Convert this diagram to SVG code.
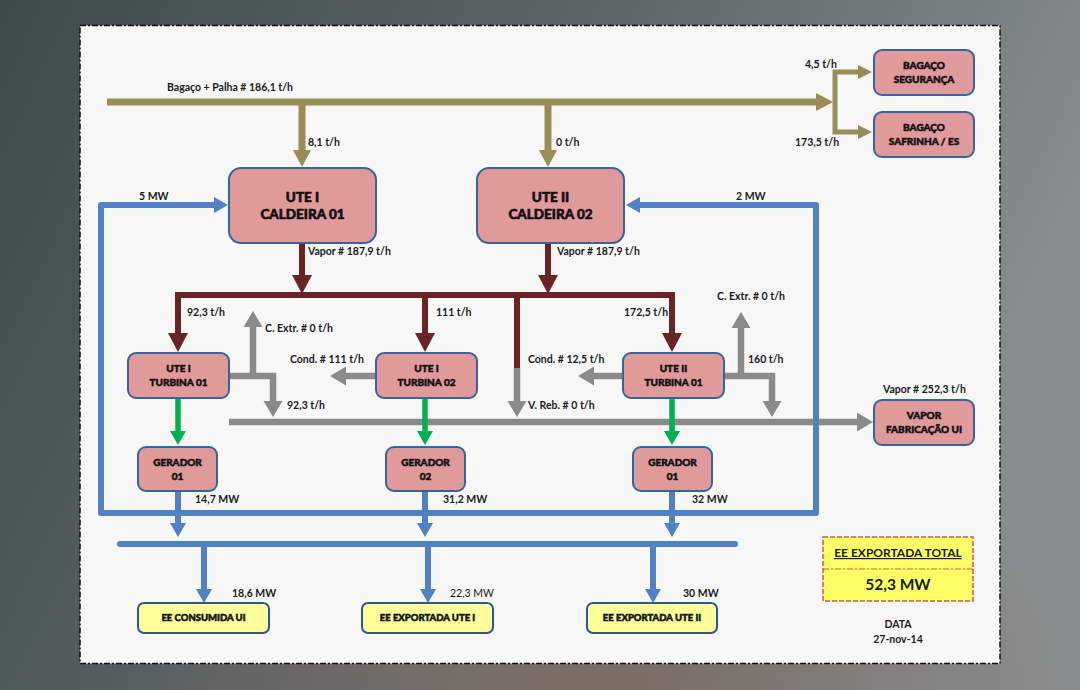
<svg xmlns="http://www.w3.org/2000/svg" width="1080" height="690" viewBox="0 0 1080 690">
<defs>
<linearGradient id="bg" x1="0" y1="0" x2="1" y2="0.3">
<stop offset="0" stop-color="#3f4b4b"/>
<stop offset="0.5" stop-color="#5c6566"/>
<stop offset="1" stop-color="#878d8d"/>
</linearGradient>
<radialGradient id="brown" cx="0.55" cy="1" r="0.45">
<stop offset="0" stop-color="#7d6a62" stop-opacity="0.9"/>
<stop offset="1" stop-color="#7d6a62" stop-opacity="0"/>
</radialGradient>
<marker id="aOl" markerUnits="userSpaceOnUse" markerWidth="20" markerHeight="20" refX="0" refY="9" orient="auto-start-reverse" overflow="visible"><path d="M0,0 L17,9 L0,18 z" fill="#998c55"/></marker>
<marker id="aOs" markerUnits="userSpaceOnUse" markerWidth="16" markerHeight="16" refX="0" refY="7" orient="auto-start-reverse" overflow="visible"><path d="M0,0 L14,7 L0,14 z" fill="#998c55"/></marker>
<marker id="aRd" markerUnits="userSpaceOnUse" markerWidth="22" markerHeight="22" refX="0" refY="10" orient="auto-start-reverse" overflow="visible"><path d="M0,0 L19,10 L0,20 z" fill="#6b2424"/></marker>
<marker id="aGy" markerUnits="userSpaceOnUse" markerWidth="20" markerHeight="20" refX="0" refY="9.5" orient="auto-start-reverse" overflow="visible"><path d="M0,0 L16,9.5 L0,19 z" fill="#8a8a8a"/></marker>
<marker id="aBl" markerUnits="userSpaceOnUse" markerWidth="18" markerHeight="18" refX="0" refY="8" orient="auto-start-reverse" overflow="visible"><path d="M0,0 L14,8 L0,16 z" fill="#4f81c4"/></marker>
<marker id="aGn" markerUnits="userSpaceOnUse" markerWidth="18" markerHeight="18" refX="0" refY="8" orient="auto-start-reverse" overflow="visible"><path d="M0,0 L14,8 L0,16 z" fill="#00b050"/></marker>
</defs>
<style>
.ol{stroke:#998c55;stroke-width:7;fill:none}
.ols{stroke:#998c55;stroke-width:5;fill:none}
.rd{stroke:#6b2424;stroke-width:6;fill:none}
.gy{stroke:#8a8a8a;stroke-width:6.5;fill:none}
.bl{stroke:#4f81c4;stroke-width:6;fill:none}
.gn{stroke:#00b050;stroke-width:5.5;fill:none}
.box{fill:#e09a9a;stroke:#35649e;stroke-width:2}
.ybox{fill:#ffff99;stroke:#2f5597;stroke-width:2}
.bt{font-family:Lato,"Liberation Sans",sans-serif;font-weight:900;fill:#111;stroke:#111;stroke-width:0.5;text-anchor:middle}
.big{font-size:13.5px;stroke-width:0.6}
.sm{font-size:10px}
.ys{font-size:9.5px}
.lb{font-family:Lato,"Liberation Sans",sans-serif;font-weight:700;font-size:10.5px;fill:#1a1a1a}
.lr{font-family:Lato,"Liberation Sans",sans-serif;font-weight:400;font-size:10.5px;fill:#1a1a1a}
.tt{font-size:12px}
.tv{font-size:15.5px}
</style>
<rect width="1080" height="690" fill="url(#bg)"/>
<rect width="1080" height="690" fill="url(#brown)"/>
<rect x="80" y="25.5" width="920" height="638" fill="#f7f7f7" stroke="#111" stroke-width="1.5" stroke-dasharray="6,2,2,2"/>

<g id="connectors">
<path class="ol" d="M107,102 H816" marker-end="url(#aOl)"/>
<path class="ols" d="M858,72 H835 V132 H858" marker-start="url(#aOs)" marker-end="url(#aOs)"/>
<path class="ol" d="M302,102 V150" marker-end="url(#aOl)"/>
<path class="ol" d="M548,102 V150" marker-end="url(#aOl)"/>
<path class="rd" d="M302,243 V275" marker-end="url(#aRd)"/>
<path class="rd" d="M548,243 V275" marker-end="url(#aRd)"/>
<path class="rd" d="M178,333 V295 H672 V333" marker-start="url(#aRd)" marker-end="url(#aRd)"/>
<path class="rd" d="M425,295 V333" marker-end="url(#aRd)"/>
<path class="rd" d="M517,295 V369"/>
<path class="gy" d="M517,368 V401" marker-end="url(#aGy)"/>
<path class="gy" d="M229,422 H857" marker-end="url(#aGy)"/>
<path class="gy" d="M229,376 H273 V401" marker-end="url(#aGy)"/>
<path class="gy" d="M253,376 V327" marker-end="url(#aGy)"/>
<path class="gy" d="M376,376 H346" marker-end="url(#aGy)"/>
<path class="gy" d="M623,376 H594" marker-end="url(#aGy)"/>
<path class="gy" d="M724,376 H772 V401" marker-end="url(#aGy)"/>
<path class="gy" d="M741,376 V328" marker-end="url(#aGy)"/>
<path class="gn" d="M178,398 V431" marker-end="url(#aGn)"/>
<path class="gn" d="M425,398 V431" marker-end="url(#aGn)"/>
<path class="gn" d="M672,398 V431" marker-end="url(#aGn)"/>
<path class="bl" d="M214,205 H101 V513 H816 V205 H640" stroke-linejoin="round" marker-start="url(#aBl)" marker-end="url(#aBl)"/>
<path class="bl" d="M178,491 V523" marker-end="url(#aBl)"/>
<path class="bl" d="M425,491 V523" marker-end="url(#aBl)"/>
<path class="bl" d="M672,491 V523" marker-end="url(#aBl)"/>
<path class="bl" d="M120,544 H735" stroke-width="7" stroke-linecap="round"/>
<path class="bl" d="M204,544 V589" marker-end="url(#aBl)"/>
<path class="bl" d="M428,544 V589" marker-end="url(#aBl)"/>
<path class="bl" d="M653,544 V589" marker-end="url(#aBl)"/>
</g>

<g id="labels">
<text class="lb" x="167" y="91">Bagaço + Palha # 186,1 t/h</text>
<text class="lb" x="308" y="146">8,1 t/h</text>
<text class="lb" x="556" y="146">0 t/h</text>
<text class="lb" x="805" y="68">4,5 t/h</text>
<text class="lb" x="795" y="146">173,5 t/h</text>
<text class="lb" x="139" y="200">5 MW</text>
<text class="lb" x="736" y="200">2 MW</text>
<text class="lb" x="308" y="255">Vapor # 187,9 t/h</text>
<text class="lb" x="557" y="255">Vapor # 187,9 t/h</text>
<text class="lb" x="187" y="316">92,3 t/h</text>
<text class="lb" x="436" y="316">111 t/h</text>
<text class="lb" x="624" y="316">172,5 t/h</text>
<text class="lb" x="265" y="332">C. Extr. # 0 t/h</text>
<text class="lb" x="717" y="300">C. Extr. # 0 t/h</text>
<text class="lb" x="290" y="363">Cond. # 111 t/h</text>
<text class="lb" x="528" y="363">Cond. # 12,5 t/h</text>
<text class="lb" x="748" y="363">160 t/h</text>
<text class="lb" x="287" y="409">92,3 t/h</text>
<text class="lb" x="528" y="409">V. Reb. # 0 t/h</text>
<text class="lb" x="883" y="393">Vapor # 252,3 t/h</text>
<text class="lb" x="195" y="503">14,7 MW</text>
<text class="lb" x="443" y="503">31,2 MW</text>
<text class="lb" x="692" y="503">32 MW</text>
<text class="lb" x="232" y="597">18,6 MW</text>
<text class="lr" x="450" y="597">22,3 MW</text>
<text class="lb" x="683" y="597">30 MW</text>
<text class="lb" x="898" y="628" text-anchor="middle">DATA</text>
<text class="lb" x="898" y="643" text-anchor="middle">27-nov-14</text>
</g>

<g id="bagaco-seguranca">
<rect class="box" x="874" y="50" width="100" height="45" rx="8"/>
<text class="bt sm" x="924" y="69">BAGAÇO</text>
<text class="bt sm" x="924" y="83">SEGURANÇA</text>
</g>
<g id="bagaco-safrinha">
<rect class="box" x="874" y="112" width="100" height="45" rx="8"/>
<text class="bt sm" x="924" y="131">BAGAÇO</text>
<text class="bt sm" x="924" y="145">SAFRINHA / ES</text>
</g>
<g id="caldeira01">
<rect class="box" x="229" y="168" width="147" height="75" rx="12"/>
<text class="bt big" x="302.5" y="202">UTE I</text>
<text class="bt big" x="302.5" y="219">CALDEIRA 01</text>
</g>
<g id="caldeira02">
<rect class="box" x="477" y="168" width="147" height="75" rx="12"/>
<text class="bt big" x="550.5" y="202">UTE II</text>
<text class="bt big" x="550.5" y="219">CALDEIRA 02</text>
</g>
<g id="turbina-ute1-01">
<rect class="box" x="128" y="353" width="101" height="45" rx="8"/>
<text class="bt sm" x="178.5" y="372">UTE I</text>
<text class="bt sm" x="178.5" y="386">TURBINA 01</text>
</g>
<g id="turbina-ute1-02">
<rect class="box" x="376" y="353" width="101" height="45" rx="8"/>
<text class="bt sm" x="426.5" y="372">UTE I</text>
<text class="bt sm" x="426.5" y="386">TURBINA 02</text>
</g>
<g id="turbina-ute2-01">
<rect class="box" x="623" y="353" width="101" height="45" rx="8"/>
<text class="bt sm" x="673.5" y="372">UTE II</text>
<text class="bt sm" x="673.5" y="386">TURBINA 01</text>
</g>
<g id="vapor-fabricacao">
<rect class="box" x="874" y="400" width="100" height="45" rx="8"/>
<text class="bt sm" x="924" y="419">VAPOR</text>
<text class="bt sm" x="924" y="433">FABRICAÇÃO UI</text>
</g>
<g id="gerador-01">
<rect class="box" x="138" y="447" width="79" height="44" rx="8"/>
<text class="bt sm" x="177.5" y="466">GERADOR</text>
<text class="bt sm" x="177.5" y="480">01</text>
</g>
<g id="gerador-02">
<rect class="box" x="386" y="447" width="79" height="44" rx="8"/>
<text class="bt sm" x="425.5" y="466">GERADOR</text>
<text class="bt sm" x="425.5" y="480">02</text>
</g>
<g id="gerador-ute2-01">
<rect class="box" x="633" y="447" width="79" height="44" rx="8"/>
<text class="bt sm" x="672.5" y="466">GERADOR</text>
<text class="bt sm" x="672.5" y="480">01</text>
</g>
<g id="ee-consumida">
<rect class="ybox" x="138" y="603" width="131" height="30" rx="6"/>
<text class="bt ys" x="203.5" y="621">EE CONSUMIDA UI</text>
</g>
<g id="ee-exportada-ute1">
<rect class="ybox" x="362" y="603" width="131" height="30" rx="6"/>
<text class="bt ys" x="427.5" y="621">EE EXPORTADA UTE I</text>
</g>
<g id="ee-exportada-ute2">
<rect class="ybox" x="587" y="603" width="130" height="30" rx="6"/>
<text class="bt ys" x="652" y="621">EE EXPORTADA UTE II</text>
</g>
<g id="ee-exportada-total">
<rect x="823" y="537" width="150" height="64" fill="#ffff66" stroke="#e0504a" stroke-width="1.5" stroke-dasharray="5,2"/>
<line x1="823" y1="569" x2="973" y2="569" stroke="#e0504a" stroke-width="1" stroke-dasharray="6,2,2,2"/>
<text class="lb tt" x="898" y="557" text-anchor="middle" text-decoration="underline">EE EXPORTADA TOTAL</text>
<text class="lb tv" x="898" y="590" text-anchor="middle">52,3 MW</text>
</g>
</svg>
